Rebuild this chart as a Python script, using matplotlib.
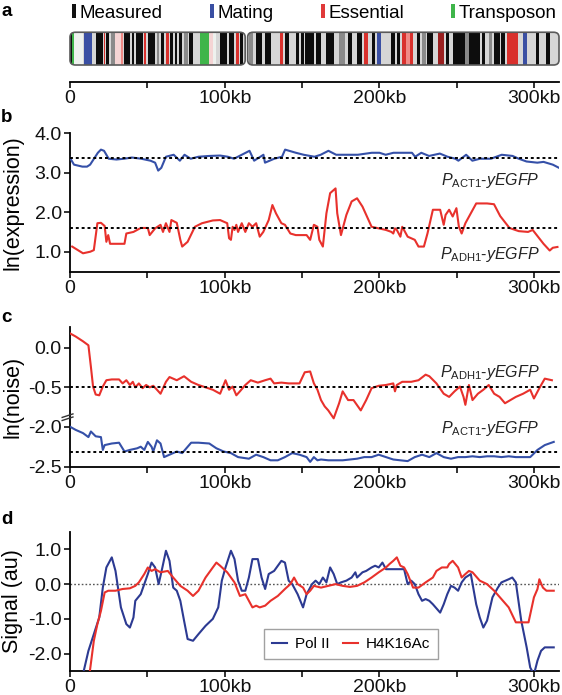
import matplotlib
matplotlib.use('Agg')
import matplotlib.pyplot as plt
from matplotlib.patches import FancyBboxPatch, Patch

plt.rcParams['font.family'] = ['Liberation Sans', 'DejaVu Sans']
plt.rcParams['mathtext.fontset'] = 'custom'
plt.rcParams['mathtext.rm'] = 'Liberation Sans'
plt.rcParams['mathtext.it'] = 'Liberation Sans:italic'

# ---------------- data ----------------
chrom_length_kb = 316
centromere_kb = 114

# chromosome features (kb)
band_start = [0, 1.4, 2.8, 8.9, 16.6, 21.7, 23.5, 26.6, 29.4, 32.9, 35.2, 39.9, 42.9, 48.0, 50.3, 56.2,
              58.5, 62.0, 64.3, 67.8, 70.2, 73.7, 77.2, 84.1, 90.0, 92.3, 97.0, 102.8, 107.5, 109.8,
              115.6, 120.3, 126.1, 135.4, 138.9, 145.9, 149.4, 151.7, 158.7, 165.7, 173.9, 179.7,
              185.5, 190.2, 194.9, 198.4, 207.7, 211.2, 214.7, 217.1, 219.4, 224.0, 227.5, 231.0,
              238.0, 242.7, 247.3, 255.0, 258.0, 266.0, 270.6, 274.1, 278.8, 282.3, 292.8, 300.9, 307.9]
band_end = [1.4, 2.8, 8.4, 14.2, 21.2, 22.8, 25.2, 28.9, 32.9, 34.3, 38.7, 41.5, 46.9, 49.4, 55.0, 57.3,
            60.8, 63.9, 66.7, 69.0, 72.5, 76.0, 79.5, 90.0, 92.3, 94.5, 101.6, 106.3, 109.0, 112.0,
            118.4, 123.8, 129.6, 137.8, 141.7, 147.8, 151.0, 157.6, 162.2, 170.4, 177.4, 182.0,
            189.0, 192.5, 197.2, 200.7, 210.0, 213.5, 217.1, 219.4, 221.7, 226.3, 229.8, 234.5,
            241.5, 245.0, 255.0, 258.0, 264.8, 268.3, 273.0, 277.6, 281.1, 289.3, 295.1, 303.3, 310.3]
band_kind = ['measured', 'transposon', 'light', 'mating', 'measured', 'essential', 'measured', 'grey',
             'pink', 'essential_light', 'measured', 'measured', 'measured', 'essential', 'measured', 'grey',
             'measured', 'essential', 'measured', 'measured', 'measured', 'grey', 'measured', 'transposon',
             'pink', 'light', 'measured', 'measured', 'essential', 'measured',
             'grey', 'measured', 'measured', 'essential', 'measured', 'measured', 'measured', 'measured',
             'measured', 'measured', 'grey', 'measured', 'measured', 'essential', 'measured', 'mating',
             'measured', 'measured', 'essential', 'essential_light', 'essential', 'measured', 'grey',
             'measured', 'essential_dark', 'measured', 'measured', 'grey', 'measured', 'measured',
             'grey', 'measured', 'measured', 'essential', 'mating', 'measured', 'measured']

legend_names = ['Measured', 'Mating', 'Essential', 'Transposon']

# panel b: ln(expression)
act1_expr_kb = [0, 2.6, 8, 11, 13, 18, 20, 22, 25, 30, 35, 40, 46, 52, 55, 57, 59, 62, 67, 71, 74, 78, 83,
                90, 97, 102, 106, 116, 119, 125, 126, 132, 137, 139, 146, 151, 158, 162, 167, 172, 186,
                195, 200, 204, 209, 221, 223, 227, 232, 239, 244, 249, 251, 256, 260, 265, 272, 279, 286,
                290, 295, 302, 306, 312, 316]
act1_expr = [3.37, 3.2, 3.15, 3.15, 3.2, 3.5, 3.58, 3.55, 3.35, 3.33, 3.35, 3.38, 3.35, 3.3, 3.25, 3.05,
             3.12, 3.4, 3.45, 3.3, 3.45, 3.35, 3.4, 3.42, 3.43, 3.4, 3.35, 3.55, 3.3, 3.45, 3.25, 3.35,
             3.4, 3.58, 3.5, 3.45, 3.4, 3.45, 3.55, 3.45, 3.45, 3.5, 3.5, 3.45, 3.5, 3.5, 3.4, 3.5, 3.42,
             3.48, 3.4, 3.35, 3.3, 3.45, 3.3, 3.35, 3.35, 3.45, 3.42, 3.35, 3.28, 3.25, 3.27, 3.2, 3.12]
adh1_expr_kb = [1.4, 8.4, 13.1, 15.4, 17.7, 20.0, 22.4, 23.5, 24.7, 25.9, 31.7, 35.2, 36.4, 41.0, 45.7,
                50.3, 51.5, 55.0, 58.5, 60.1, 62.0, 64.3, 65.5, 69.0, 71.3, 72.5, 76.0, 80.7, 85.3, 92.3,
                97.0, 101.6, 102.8, 104.0, 105.1, 106.3, 107.5, 108.6, 111.0, 113.3, 115.6, 117.9, 120.3,
                122.6, 124.9, 128.4, 130.8, 133.1, 136.6, 138.9, 142.4, 145.9, 152.9, 155.2, 157.6, 159.9,
                161.1, 163.4, 165.7, 168.1, 171.6, 172.7, 175.1, 178.6, 182.0, 185.5, 189.0, 194.9, 199.5,
                204.2, 207.7, 208.9, 210.0, 211.2, 213.5, 214.7, 218.2, 222.8, 225.2, 228.7, 231.0, 234.5,
                239.2, 241.5, 242.7, 245.0, 247.3, 249.7, 251.3, 253.1, 255.5, 262.5, 269.5, 274.0, 278.0,
                284.0, 290.0, 296.0, 299.0, 302.0, 306.0, 310.0, 312.0, 315.0]
adh1_expr = [1.13, 0.96, 1.0, 1.04, 1.72, 1.73, 1.65, 1.25, 1.42, 1.2, 1.2, 1.2, 1.46, 1.5, 1.6, 1.6,
             1.42, 1.59, 1.68, 1.5, 1.72, 1.5, 1.8, 1.73, 1.3, 1.13, 1.25, 1.63, 1.72, 1.79, 1.8, 1.72,
             1.34, 1.3, 1.63, 1.55, 1.68, 1.5, 1.72, 1.5, 1.72, 1.63, 1.72, 1.38, 1.5, 1.8, 2.18, 1.97,
             1.72, 1.68, 1.46, 1.42, 1.42, 1.3, 1.68, 1.63, 1.3, 1.13, 1.97, 2.48, 2.6, 1.97, 1.42, 1.93,
             2.27, 2.35, 2.14, 1.63, 1.59, 1.55, 1.5, 1.46, 1.59, 1.55, 1.38, 1.63, 1.38, 1.3, 1.13, 1.13,
             1.46, 2.06, 2.06, 1.68, 1.93, 2.06, 1.89, 2.1, 1.63, 1.46, 1.72, 2.22, 2.22, 2.2, 1.9, 1.6,
             1.52, 1.5, 1.55, 1.4, 1.2, 1.03, 1.1, 1.12]
act1_expr_mean = 3.38
adh1_expr_mean = 1.6

# panel c: ln(noise)
adh1_noise_kb = [0, 3.7, 8.4, 11.9, 13.5, 14.9, 16.6, 18.9, 21.2, 23.5, 27, 31.7, 34, 36.4, 38.7, 40.6,
                 42.2, 44.5, 46.9, 49.2, 51.5, 53.8, 56.2, 58.5, 62, 64.3, 69, 73.7, 78.3, 83, 92.3, 97,
                 100.5, 102.8, 105.1, 107.5, 109.8, 113.3, 116.8, 121.4, 126.1, 129.6, 131.9, 136.6, 141.3,
                 148.3, 151.7, 155.2, 157.6, 159.9, 162.2, 164.6, 166.9, 170.4, 173.9, 176.2, 179.7, 183.2,
                 187.9, 191.4, 194.9, 199.5, 204.2, 208.9, 210, 211.2, 214.7, 220.5, 225.2, 229.8, 232.2,
                 236.8, 241.5, 245, 248.5, 252, 254.3, 255.5, 257.8, 260.1, 263.6, 267.1, 270.6, 274.1,
                 277.6, 281.1, 284.6, 288.1, 292.8, 297.4, 299.8, 303.3, 306.8, 311.4]
adh1_noise = [0.18, 0.14, 0.08, 0.03, -0.24, -0.49, -0.59, -0.6, -0.49, -0.41, -0.40, -0.40, -0.45, -0.41,
              -0.47, -0.43, -0.5, -0.45, -0.51, -0.47, -0.5, -0.48, -0.53, -0.58, -0.43, -0.37, -0.41, -0.36,
              -0.43, -0.47, -0.53, -0.58, -0.41, -0.53, -0.49, -0.6, -0.55, -0.47, -0.41, -0.44, -0.41, -0.39,
              -0.45, -0.44, -0.45, -0.45, -0.31, -0.30, -0.45, -0.53, -0.66, -0.74, -0.79, -0.89, -0.70,
              -0.55, -0.66, -0.66, -0.79, -0.66, -0.51, -0.48, -0.47, -0.45, -0.55, -0.47, -0.43, -0.43,
              -0.41, -0.34, -0.36, -0.45, -0.58, -0.62, -0.55, -0.49, -0.62, -0.72, -0.47, -0.66, -0.58,
              -0.53, -0.47, -0.58, -0.62, -0.70, -0.66, -0.62, -0.58, -0.53, -0.64, -0.51, -0.39, -0.41]
act1_noise_kb = [0, 3.7, 8.4, 11.9, 13.5, 16.6, 20, 21.2, 22.4, 27, 31.7, 35.2, 38.7, 43.4, 45.7, 48, 50.3,
                 52.7, 53.8, 56.2, 58.5, 60.8, 64.3, 69, 72.5, 78.3, 83, 90, 94.6, 99.3, 104, 108.6, 115.6,
                 120.3, 124.9, 129.6, 134.3, 138.9, 143.6, 148.3, 152.9, 155.2, 157.6, 159.9, 162.2, 166.9,
                 171.6, 176.2, 180.9, 185.5, 190.2, 194.9, 199.5, 204.2, 208.9, 213.5, 218.2, 222.8, 227.5,
                 232.2, 236.8, 241.5, 246.2, 250.8, 255.5, 260.1, 264.8, 269.5, 274.1, 278.8, 283.5, 288.1,
                 292.8, 297.4, 302.1, 306.8, 312.6]
act1_noise = [-2.0, -2.04, -2.08, -2.13, -2.06, -2.12, -2.13, -2.29, -2.23, -2.21, -2.2, -2.31, -2.29, -2.27,
              -2.25, -2.29, -2.19, -2.25, -2.31, -2.17, -2.21, -2.38, -2.35, -2.31, -2.33, -2.2, -2.2, -2.21,
              -2.27, -2.31, -2.33, -2.38, -2.4, -2.35, -2.38, -2.42, -2.42, -2.38, -2.33, -2.35, -2.38, -2.44,
              -2.38, -2.42, -2.41, -2.42, -2.42, -2.42, -2.41, -2.4, -2.38, -2.38, -2.35, -2.38, -2.41, -2.42,
              -2.43, -2.38, -2.35, -2.38, -2.33, -2.38, -2.4, -2.38, -2.38, -2.37, -2.38, -2.37, -2.37, -2.38,
              -2.37, -2.38, -2.38, -2.38, -2.29, -2.23, -2.19]
adh1_noise_mean = -0.5
act1_noise_mean = -2.32

# panel d: ChIP signal
polii_kb = [8.4, 11.9, 15.4, 18.9, 21.2, 23.5, 27, 29.4, 32.9, 36.4, 38.7, 41, 42.2, 45.7, 50.3, 52.7, 55,
            57.3, 59.7, 62, 64.3, 66.7, 69, 71.3, 73.7, 76, 79.5, 83, 87.6, 92.3, 95.8, 98.1, 100.5, 104,
            106.3, 108.6, 111, 113.3, 115.6, 117.9, 121.4, 123.8, 126.1, 128.4, 131.9, 136.6, 138.9, 141.3,
            143.6, 147.1, 150.6, 152.9, 156.4, 158.7, 161.1, 163.4, 165.7, 168.1, 170.4, 172.7, 175.1,
            178.6, 182, 184.4, 185.5, 189, 191.4, 194.9, 197.2, 199.5, 201.9, 204.2, 206.5, 211.2, 215.9,
            218.2, 220.5, 222.8, 225.2, 227.5, 229.8, 232.2, 234.5, 239.2, 241.5, 243.8, 246.2, 248.5,
            250.8, 253.1, 255.5, 259, 262.5, 264.8, 267.1, 269.5, 273, 276.5, 278.8, 283.5, 285.8, 288.1,
            291.6, 295.1, 297.4, 299.8, 302.1, 304.4, 306.8, 312.6]
polii = [-2.59, -1.92, -1.44, -0.96, -0.1, 0.48, 0.77, 0.38, -0.67, -1.15, -1.25, -0.96, -0.48, -0.29, 0.29,
         0.62, 0.48, 0.0, 0.48, 0.96, 0.67, -0.1, -0.19, -0.48, -1.05, -1.58, -1.63, -1.44, -1.2, -1.0, -0.67,
         0.1, 0.48, 0.96, 0.72, 0.1, -0.19, -0.19, 0.19, 0.72, 0.72, 0.19, -0.14, 0.29, 0.38, 0.67, 0.62,
         0.1, 0.0, -0.29, -0.67, -0.29, 0.0, 0.1, 0.0, 0.19, 0.05, 0.48, 0.29, 0.0, 0.05, 0.1, 0.19, 0.34,
         0.19, 0.34, 0.38, 0.48, 0.53, 0.48, 0.62, 0.43, 0.43, 0.43, 0.43, 0.0, 0.1, 0.0, -0.29, -0.48,
         -0.43, -0.48, -0.58, -0.82, -0.58, -0.29, -0.05, -0.1, -0.19, 0.05, 0.19, 0.29, -0.58, -0.96, -1.25,
         -1.05, -0.38, -0.1, 0.05, 0.14, 0.19, 0.05, -1.05, -1.82, -2.4, -2.6, -2.2, -1.92, -1.82, -1.82]
h4k16ac_kb = [12.6, 15.4, 17.7, 20, 22.4, 24.7, 29.4, 34, 38.7, 42.2, 44.5, 48, 50.3, 52.7, 55, 58.5, 63.2,
              66.7, 71.3, 76, 79.5, 83, 87.6, 92.3, 94.6, 97, 101.6, 106.3, 109.8, 113.3, 115.6, 117.9,
              120.3, 122.6, 126.1, 129.6, 134.3, 138.9, 142.4, 144.8, 147.1, 150.6, 152.9, 155.2, 157.6,
              162.2, 166.9, 171.6, 176.2, 180.9, 185.5, 190.2, 194.9, 199.5, 204.2, 206.5, 208.9, 211.2,
              213.5, 215.9, 218.2, 221.7, 225.2, 229.8, 234.5, 236.8, 240.3, 243.8, 245, 247.3, 250.8,
              253.1, 255.5, 257.8, 260.1, 264.8, 269.5, 274.1, 278.8, 283.5, 288.1, 292.8, 296.3, 299.8,
              302.1, 303.3, 305.6, 307.9, 312.6]
h4k16ac = [-2.59, -1.63, -1.15, -0.77, -0.24, -0.19, -0.19, -0.14, -0.12, -0.05, 0.05, 0.29, 0.48, 0.38, 0.43,
           0.34, 0.38, 0.19, -0.05, -0.19, -0.34, -0.19, 0.19, 0.48, 0.62, 0.53, 0.34, 0.05, -0.34, -0.29,
           -0.48, -0.67, -0.62, -0.67, -0.62, -0.48, -0.34, -0.14, 0.0, 0.19, 0.0, -0.1, -0.29, -0.19, -0.05,
           -0.1, -0.05, 0.0, -0.05, -0.08, -0.05, 0.05, 0.19, 0.34, 0.48, 0.58, 0.67, 0.77, 0.53, 0.48, 0.29,
           -0.1, -0.1, 0.05, 0.19, 0.38, 0.48, 0.48, 0.58, 0.67, 0.48, 0.19, 0.29, 0.38, 0.34, 0.1, 0.0,
           -0.19, -0.43, -0.67, -1.1, -1.1, -1.1, -0.38, -0.14, 0.14, -0.1, -0.19, -0.19]

x_major = [0, 50, 100, 150, 200, 250, 300]
x_labels = ['0', '', '100kb', '', '200kb', '', '300kb']

# ---------------- style ----------------
W, H = 562, 695
fig = plt.figure(figsize=(W / 100, H / 100), dpi=100)
BLUE = '#3550a8'
RED = '#e8312c'
DBLUE = '#2c3a92'
kind_color = {'measured': '#0d0d0d', 'grey': '#8a8a8a', 'light': '#eef1ee', 'pink': '#f4d4d4',
              'mating': '#3a4fa3', 'essential': '#d9302c', 'essential_light': '#f08a86',
              'essential_dark': '#9a1f1f', 'transposon': '#3fb54a'}
legend_colors = ['#111111', '#3a4fa3', '#e03a3a', '#3fb54a']
TICK_FS = 14
LABEL_FS = 15.5
LEFT, RIGHT = 70, 559
LABEL_X = -0.096


def make_axes(top, bottom):
    return fig.add_axes([LEFT / W, 1 - bottom / H, (RIGHT - LEFT) / W, (bottom - top) / H])


def style_axes(ax, show_left=True):
    ax.set_xlim(0, chrom_length_kb)
    ax.set_xticks(x_major)
    ax.set_xticklabels(x_labels)
    for s in ['top', 'right']:
        ax.spines[s].set_visible(False)
    ax.spines['bottom'].set_linewidth(1.3)
    ax.spines['left'].set_linewidth(1.3)
    ax.spines['left'].set_visible(show_left)
    ax.tick_params(axis='both', direction='out', length=4, width=1.2, labelsize=TICK_FS, pad=2,
                   colors='#111111')


# ---------------- panel a ----------------
ax_a = make_axes(32, 82)
style_axes(ax_a, show_left=False)
ax_a.set_yticks([])
ax_a.set_ylim(0, 1)
ax_a.patch.set_visible(False)
bar_bottom, bar_h = 0.34, 0.655
arms = []
for x0, x1 in [(0, centromere_kb - 0.8), (centromere_kb + 0.8, chrom_length_kb)]:
    p = FancyBboxPatch((x0, bar_bottom), x1 - x0, bar_h,
                       boxstyle='round,pad=0,rounding_size=3.5', mutation_aspect=0.028,
                       facecolor='#d6d6d6', edgecolor='none', zorder=1, clip_on=False)
    ax_a.add_patch(p)
    arms.append((x0, x1, p))
for s, e, k in zip(band_start, band_end, band_kind):
    bars = ax_a.bar(s, bar_h, width=e - s, bottom=bar_bottom, align='edge',
                    color=kind_color[k], linewidth=0, zorder=2)
    for x0, x1, p in arms:
        if x0 - 0.5 <= s <= x1:
            for b in bars:
                b.set_clip_path(p)
for x0, x1, p in arms:
    outline = FancyBboxPatch((x0, bar_bottom), x1 - x0, bar_h,
                             boxstyle='round,pad=0,rounding_size=3.5', mutation_aspect=0.028,
                             facecolor='none', edgecolor='#5a5a5a', linewidth=1.2, zorder=3, clip_on=False)
    ax_a.add_patch(outline)

handles = [Patch(facecolor=c, edgecolor='none') for c in legend_colors]
fig.legend(handles, legend_names, loc='center left', bbox_to_anchor=(72 / W, 1 - 13 / H),
           ncol=4, frameon=False, fontsize=13.5, handlelength=0.22, handleheight=0.75,
           handletextpad=0.2, columnspacing=2.5, borderpad=0, borderaxespad=0)

# ---------------- panel b ----------------
ax_b = make_axes(133, 271.5)
style_axes(ax_b)
ax_b.plot(act1_expr_kb, act1_expr, color=BLUE, lw=1.5, zorder=3)
ax_b.plot(adh1_expr_kb, adh1_expr, color=RED, lw=1.5, zorder=3)
ax_b.axhline(act1_expr_mean, color='black', ls=(0, (1.5, 1.5)), lw=1.4, zorder=4)
ax_b.axhline(adh1_expr_mean, color='black', ls=(0, (1.5, 1.5)), lw=1.4, zorder=4)
ax_b.set_ylim(0.5, 4.0)
ax_b.set_yticks([1.0, 2.0, 3.0, 4.0])
ax_b.set_yticklabels(['1.0', '2.0', '3.0', '4.0'])
ax_b.set_ylabel('ln(expression)', fontsize=LABEL_FS)
ax_b.yaxis.set_label_coords(LABEL_X, 0.5)
ax_b.text(0.96, (271.5 - 180) / 138.5, r'$P_{\mathrm{ACT1}}$' + r'-$\mathit{yEGFP}$',
          transform=ax_b.transAxes, ha='right', va='center', fontsize=11.5, color='#222222')
ax_b.text(0.96, (271.5 - 255) / 138.5, r'$P_{\mathrm{ADH1}}$' + r'-$\mathit{yEGFP}$',
          transform=ax_b.transAxes, ha='right', va='center', fontsize=11.5, color='#222222')

# ---------------- panel c (broken axis) ----------------
C_TOP, C_BOT = 326.7, 466.7
ax_c = make_axes(C_TOP, C_BOT)
style_axes(ax_c)
ax_c.plot(adh1_noise_kb, adh1_noise, color=RED, lw=1.5, zorder=3)
ax_c.axhline(adh1_noise_mean, color='black', ls=(0, (1.5, 1.5)), lw=1.4, zorder=4)
ax_c.set_ylim(-1.499, 0.264)
ax_c.set_yticks([-0.5, 0.0])
ax_c.set_yticklabels(['-0.5', '0.0'])
ax_c.set_ylabel('ln(noise)', fontsize=LABEL_FS)
ax_c.yaxis.set_label_coords(LABEL_X, 0.5)

ax_c2 = make_axes(C_TOP, C_BOT)
ax_c2.patch.set_visible(False)
ax_c2.set_xlim(0, chrom_length_kb)
ax_c2.plot(act1_noise_kb, act1_noise, color=BLUE, lw=1.5, zorder=3)
ax_c2.axhline(act1_noise_mean, color='black', ls=(0, (1.5, 1.5)), lw=1.4, zorder=4)
ax_c2.set_ylim(-2.5, -0.75)
ax_c2.set_yticks([-2.5, -2.0])
ax_c2.set_yticklabels(['-2.5', '-2.0'])
ax_c2.set_xticks([])
for s in ax_c2.spines.values():
    s.set_visible(False)
ax_c2.tick_params(axis='y', direction='out', length=4, width=1.2, labelsize=TICK_FS, pad=2,
                  colors='#111111')
# break marks on the y axis
for dy in (0.0, 0.022):
    ax_c.plot([-0.016, 0.006], [0.33 + dy, 0.355 + dy], transform=ax_c.transAxes, color='#333333',
              lw=1.0, clip_on=False, zorder=5)
ax_c.text(0.96, (C_BOT - 372) / (C_BOT - C_TOP), r'$P_{\mathrm{ADH1}}$' + r'-$\mathit{yEGFP}$',
          transform=ax_c.transAxes, ha='right', va='center', fontsize=11.5, color='#222222')
ax_c.text(0.96, (C_BOT - 428) / (C_BOT - C_TOP), r'$P_{\mathrm{ACT1}}$' + r'-$\mathit{yEGFP}$',
          transform=ax_c.transAxes, ha='right', va='center', fontsize=11.5, color='#222222')

# ---------------- panel d ----------------
ax_d = make_axes(532, 671)
style_axes(ax_d)
ax_d.axhline(0, color='#555555', ls=(0, (1.2, 1.5)), lw=1.0, zorder=2)
ax_d.plot(polii_kb, polii, color=DBLUE, lw=1.5, zorder=3, label='Pol II')
ax_d.plot(h4k16ac_kb, h4k16ac, color=RED, lw=1.5, zorder=3, label='H4K16Ac')
ax_d.set_ylim(-2.5, 1.5)
ax_d.set_yticks([-2.0, -1.0, 0.0, 1.0])
ax_d.set_yticklabels(['-2.0', '-1.0', '0.0', '1.0'])
ax_d.set_ylabel('Signal (au)', fontsize=LABEL_FS)
ax_d.yaxis.set_label_coords(LABEL_X, 0.5)
leg = ax_d.legend(loc='center', bbox_to_anchor=(0.575, 0.195), ncol=2, fontsize=11, frameon=True,
                  fancybox=False, edgecolor='#8a8a8a', handlelength=1.0, handletextpad=0.5,
                  columnspacing=0.9, borderpad=0.5)
leg.get_frame().set_linewidth(1.0)

# panel letters
for letter, y in [('a', 12), ('b', 118), ('c', 317), ('d', 520)]:
    fig.text(1 / W, 1 - y / H, letter, fontsize=13.5, fontweight='bold', ha='left', va='center')

fig.savefig('out.png', dpi=100)
